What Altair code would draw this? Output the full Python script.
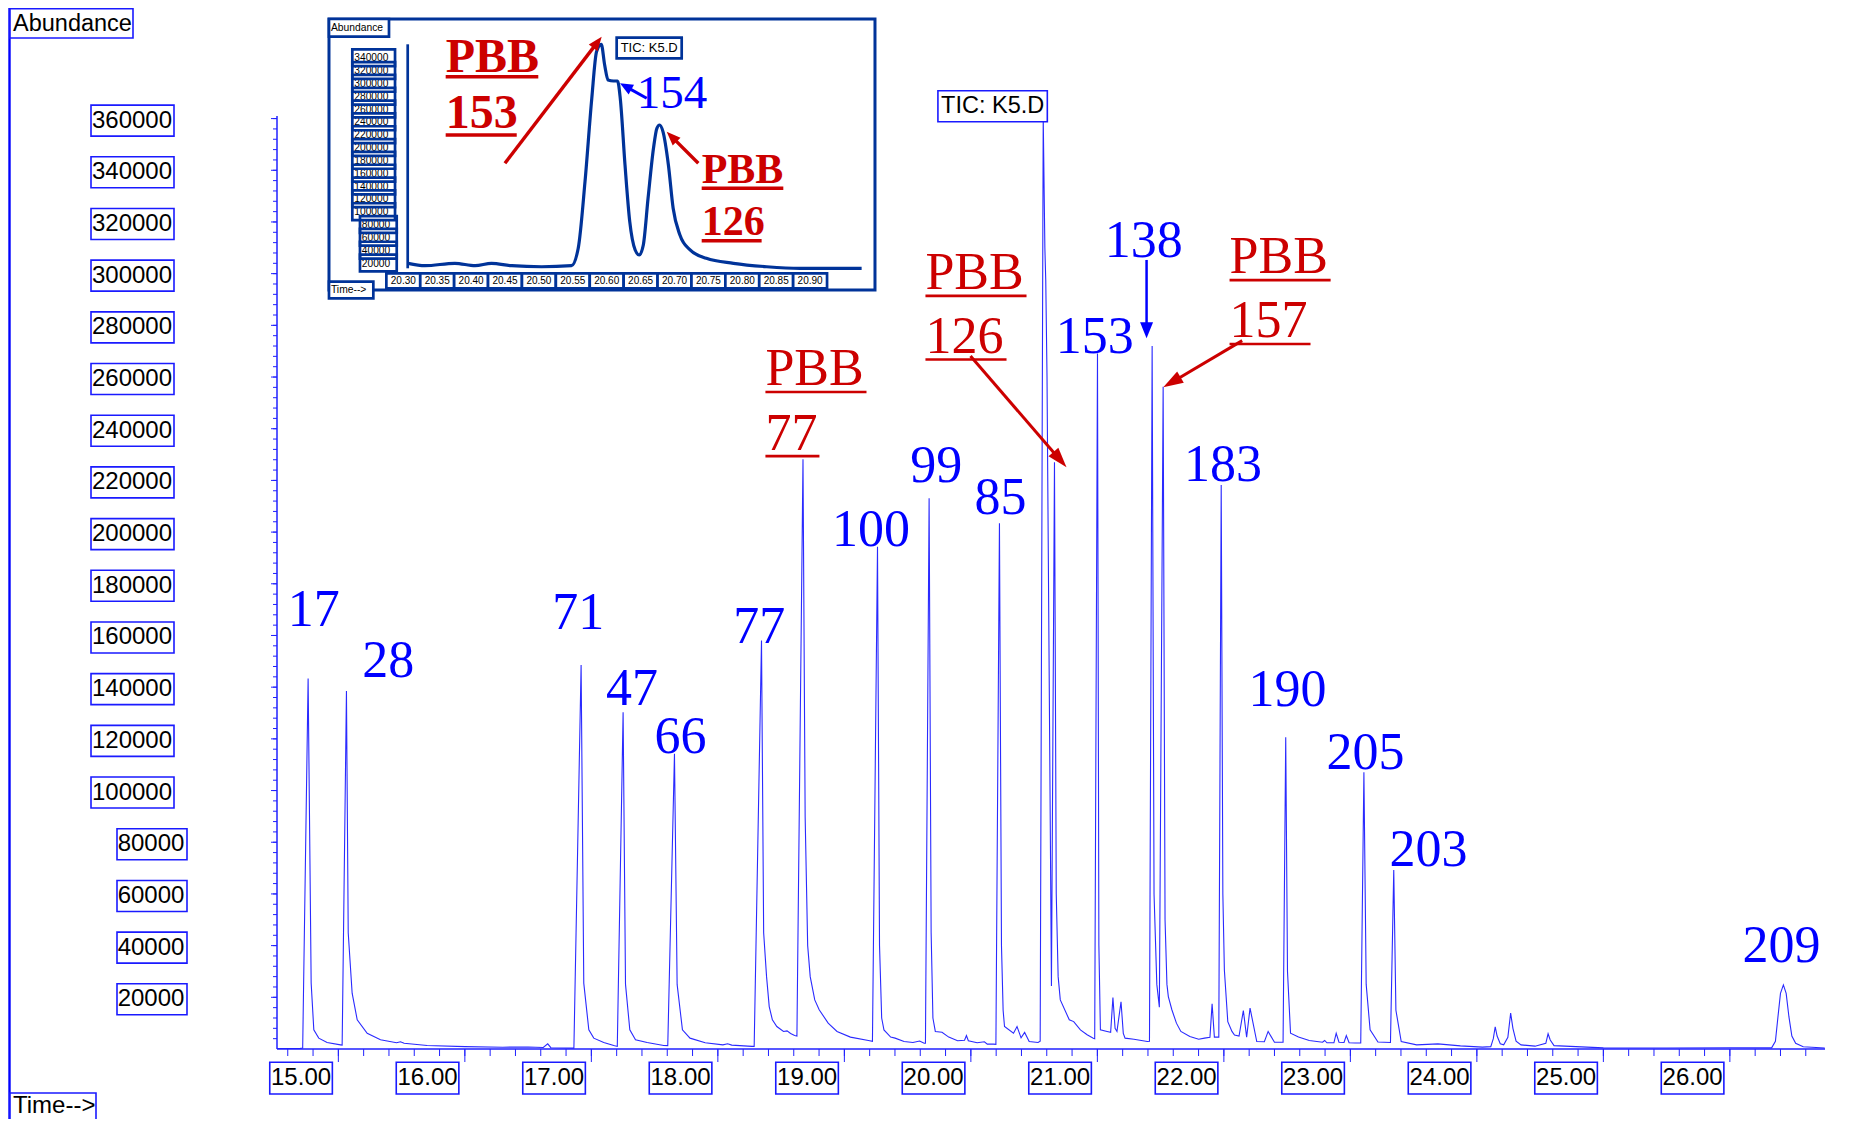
import math
import altair as alt
import pandas as pd

# ---------------- main TIC trace: retention time (min) / abundance ----------------
rt_min = [
    14.515, 14.700, 14.718,
    14.761, 14.785, 14.806, 14.845, 14.911, 15.017,
    15.030, 15.064, 15.078, 15.109, 15.149, 15.228, 15.333, 15.460, 15.491, 15.520, 15.702, 16.000, 16.300, 16.500, 16.620, 16.655, 16.680, 16.850,
    16.862, 16.919, 16.940, 16.980, 17.019, 17.098, 17.177,
    17.205, 17.251, 17.270, 17.304, 17.349, 17.441, 17.572,
    17.604, 17.657, 17.678, 17.720, 17.780, 17.900, 18.040, 18.077, 18.110, 18.270,
    18.287, 18.345, 18.362, 18.385, 18.406, 18.431, 18.466, 18.519, 18.547, 18.575, 18.607,
    18.625, 18.673, 18.690, 18.710, 18.730, 18.766, 18.801, 18.872, 18.942, 19.048, 19.190,
    19.222, 19.262, 19.278, 19.295, 19.313, 19.366, 19.401, 19.472, 19.542, 19.595, 19.631,
    19.641, 19.670, 19.686, 19.700, 19.719, 19.772, 19.825, 19.895, 19.950, 19.965, 19.980, 20.050, 20.107, 20.130, 20.178,
    20.198, 20.226, 20.242, 20.255, 20.266, 20.337, 20.365, 20.397, 20.425, 20.461, 20.531,
    20.548, 20.572, 20.585, 20.592, 20.602, 20.637, 20.661, 20.675, 20.690, 20.707, 20.778, 20.813, 20.866, 20.919, 20.968,
    20.979, 21.001, 21.012, 21.024, 21.077, 21.105, 21.123, 21.140, 21.155, 21.187, 21.205, 21.219, 21.289, 21.395,
    21.412, 21.433, 21.448, 21.470, 21.490, 21.520, 21.535, 21.550, 21.561, 21.589, 21.625, 21.660, 21.731, 21.801, 21.847, 21.890, 21.907, 21.925, 21.941,
    21.960, 21.979, 21.992, 22.004, 22.031, 22.064, 22.084, 22.120, 22.154, 22.180, 22.207, 22.260, 22.320, 22.350, 22.400, 22.454,
    22.468, 22.489, 22.503, 22.527, 22.590, 22.675, 22.780, 22.797, 22.815, 22.870, 22.888, 22.910, 22.950, 22.968, 22.990, 23.039,
    23.082, 23.107, 23.125, 23.156, 23.218,
    23.317, 23.343, 23.360, 23.402, 23.524, 23.692, 23.870, 24.044,
    24.110, 24.130, 24.145, 24.160, 24.185, 24.212, 24.245, 24.267, 24.285, 24.310, 24.349, 24.460, 24.545, 24.563, 24.580, 24.610, 25.000, 25.500, 26.000, 26.300,
    26.330, 26.360, 26.380, 26.400, 26.423, 26.445, 26.467, 26.490, 26.520, 26.580, 26.750,
]
abundance = [
    200, 250, 400,
    143400, 25500, 7400, 4200, 2500, 1600,
    1500, 138500, 45000, 21600, 11300, 6100, 3600, 2400, 2800, 2200, 1350, 900, 700, 800, 600, 2000, 500, 350,
    350, 148600, 25500, 7400, 4200, 2500, 1350,
    1000, 130300, 25000, 7400, 3600, 2500, 1350,
    1300, 114200, 25000, 7400, 4200, 2400, 1600, 2000, 1500, 1000,
    1000, 158100, 45000, 28000, 16400, 11300, 8700, 6800, 7000, 6000, 5200,
    5000, 228200, 90000, 40000, 28000, 19000, 15200, 10000, 6800, 4600, 3300,
    3000, 194300, 40000, 12000, 7400, 4600, 4200, 2900, 2500, 3100, 2200,
    2200, 213100, 45000, 12000, 6800, 6500, 4600, 3200, 3400, 5200, 3200, 2400, 2800, 1900, 1900,
    1800, 203400, 40000, 15000, 8700, 6100, 8700, 4300, 6400, 2900, 2500,
    3000, 360600, 310000, 297500, 260000, 24400, 227000, 60000, 28000, 19000, 11300, 10600, 7400, 5500, 4200,
    4000, 269100, 40000, 7400, 6800, 6500, 19900, 8000, 6800, 18300, 6000, 4200, 3800, 2900,
    3000, 272000, 60000, 25000, 16200, 256200, 50000, 25000, 20300, 15200, 10000, 6800, 4800, 3800, 4200, 4500, 17500, 4600, 4600,
    4600, 218200, 60000, 30600, 10600, 6800, 5400, 5000, 14900, 4600, 15800, 2900, 2800, 6800, 2600, 2600,
    2600, 120600, 30000, 6100, 4600, 3300, 2600, 3300, 2400, 2400, 6100, 2600, 2500, 5200, 2400, 2300,
    2300, 107100, 25000, 7400, 2700,
    2500, 69300, 15000, 2900, 1600, 2000, 1200, 730,
    900, 4000, 8600, 5000, 2000, 1600, 4500, 13900, 8000, 3000, 1600, 1100, 2200, 5900, 3500, 1300, 450, 400, 500, 450,
    450, 3000, 12400, 21500, 24800, 21500, 12400, 5000, 2200, 900, 400,
]

# ---------------- axis labels ----------------
y_label_values = [360000, 340000, 320000, 300000, 280000, 260000, 240000, 220000, 200000,
                  180000, 160000, 140000, 120000, 100000, 80000, 60000, 40000, 20000]
y_label_text = ["360000", "340000", "320000", "300000", "280000", "260000", "240000", "220000", "200000",
                "180000", "160000", "140000", "120000", "100000", "80000", "60000", "40000", "20000"]
x_label_values = [15, 16, 17, 18, 19, 20, 21, 22, 23, 24, 25, 26]
x_label_text = ["15.00", "16.00", "17.00", "18.00", "19.00", "20.00",
                "21.00", "22.00", "23.00", "24.00", "25.00", "26.00"]
x_minor_ticks = [round(14.6 + 0.2 * i, 1) for i in range(61)]
y_minor_ticks = list(range(4000, 360001, 4000))

# ---------------- peak number labels (blue) ----------------
peak_names = ["17", "28", "71", "47", "66", "77", "100", "99", "85", "153", "138", "183", "190", "205", "203", "209"]
peak_label_rt = [14.805, 15.395, 16.897, 17.322, 17.704, 18.327, 19.210, 19.727, 20.234,
                 20.979, 21.367, 21.993, 22.503, 23.119, 23.618, 26.409]
peak_label_ab = [163700, 144000, 162400, 133100, 114400, 157200, 194700, 219400, 206900,
                 269200, 306300, 219900, 132700, 108200, 70800, 33800]

# ---------------- PBB annotations (red, underlined) ----------------
pbb_text = ["PBB", "77", "PBB", "126", "PBB", "157"]
pbb_rt = [18.376, 18.376, 19.641, 19.641, 22.045, 22.045]
pbb_ab = [256900, 231800, 293900, 269400, 300100, 275600]
pbb_uline_end = [19.175, 18.803, 20.440, 20.282, 22.844, 22.685]
pbb_uline_ab = [254200, 229400, 291400, 266800, 297500, 272800]

red_arrow_rt1 = [19.997, 22.145]
red_arrow_ab1 = [268100, 274100]
red_arrow_rt2 = [20.756, 21.521]
red_arrow_ab2 = [225100, 256000]
blue_arrow_rt1 = [21.389]
blue_arrow_ab1 = [305300]
blue_arrow_rt2 = [21.389]
blue_arrow_ab2 = [275000]

# ---------------- inset (zoom 20.30 - 20.90 min) ----------------
inset_rt = [20.307, 20.332, 20.376, 20.406, 20.430, 20.460, 20.504, 20.548, 20.558, 20.568, 20.578,
            20.585, 20.592, 20.597, 20.602, 20.610, 20.616, 20.620, 20.627, 20.634, 20.642, 20.648,
            20.654, 20.661, 20.669, 20.674, 20.678, 20.683, 20.691, 20.698, 20.708, 20.723, 20.747,
            20.787, 20.836, 20.885, 20.976]
inset_ab = [19600, 15900, 19600, 15900, 19600, 15900, 14300, 15900, 43000, 146800, 276800,
            349500, 361000, 328700, 305400, 303800, 303800, 276800, 172900, 84500, 40400, 32600,
            48200, 121000, 198900, 230100, 235200, 224800, 172900, 105400, 63800, 40400, 27400,
            19600, 14300, 11800, 11800]
inset_y_values = [340000, 320000, 300000, 280000, 260000, 240000, 220000, 200000, 180000,
                  160000, 140000, 120000, 100000, 80000, 60000, 40000, 20000]
inset_y_text = ["340000", "320000", "300000", "280000", "260000", "240000", "220000", "200000", "180000",
                "160000", "140000", "120000", "100000", "80000", "60000", "40000", "20000"]
inset_x_values = [20.30, 20.35, 20.40, 20.45, 20.50, 20.55, 20.60, 20.65, 20.70, 20.75, 20.80, 20.85, 20.90]
inset_x_text = ["20.30", "20.35", "20.40", "20.45", "20.50", "20.55", "20.60", "20.65", "20.70",
                "20.75", "20.80", "20.85", "20.90"]
inset_pbb_text = ["PBB", "153", "PBB", "126"]
inset_pbb_rt = [20.3625, 20.3625, 20.7401, 20.7401]
inset_pbb_ab = [318310, 230080, 144350, 63755]
inset_pbb_size = [48, 48, 42, 42]
inset_uline_end = [20.4991, 20.4673, 20.8605, 20.8285]
inset_uline_ab = [310515, 219640, 136550, 54870]
inset_red_rt1 = [20.4499, 20.7351]
inset_red_ab1 = [175520, 175520]
inset_red_rt2 = [20.5926, 20.6885]
inset_red_ab2 = [372870, 224780]
inset_blue_rt1 = [20.6590]
inset_blue_ab1 = [276850]
inset_blue_rt2 = [20.6196]
inset_blue_ab2 = [300230]

# ---------------- layout / style ----------------
PLOT_W, PLOT_H = 1548, 933
PAD = {"left": 269, "top": 108, "right": 19, "bottom": 70}
X_DOM = [14.515, 26.752]
Y_DOM = [0, 361000]
PXM = PLOT_W / (X_DOM[1] - X_DOM[0])
PXU = PLOT_H / (Y_DOM[1] - Y_DOM[0])

IN_PXM = 678.0
IN_PXU = 0.0006415
IN_T0, IN_X0, IN_Y0 = 20.30, 126.3, 159.9
IX_DOM = [IN_T0 - IN_X0 / IN_PXM, IN_T0 + (PLOT_W - IN_X0) / IN_PXM]
IY_DOM = [-(PLOT_H - IN_Y0) / IN_PXU, IN_Y0 / IN_PXU]

BLUE = "#0000ff"
TRACE = "#2a2aff"
AX = "#2020ff"
BOX = "#1a1aff"
RED = "#cc0000"
NAVY = "#003399"
SANS = "Liberation Sans"
SERIF = "Liberation Serif"


def sc(dom):
    return alt.Scale(domain=dom, nice=False, zero=False)


def X(f, dom=X_DOM):
    return alt.X(f, type="quantitative", scale=sc(dom), axis=None)


def Y(f, dom=Y_DOM):
    return alt.Y(f, type="quantitative", scale=sc(dom), axis=None)


def arrows(x1, y1, x2, y2, color, width, head_len, head_w, xdom, ydom, pxm, pxu):
    rows = []
    for a, b, c, d in zip(x1, y1, x2, y2):
        dx = (c - a) * pxm
        dy = -(d - b) * pxu
        n = math.hypot(dx, dy)
        ux, uy = dx / n, dy / n
        back = 0.6 * head_len
        rows.append({"x1": a, "y1": b, "xe": c - ux * back / pxm, "ye": d + uy * back / pxu,
                     "x2": c, "y2": d, "ang": math.degrees(math.atan2(dx, -dy)) % 360})
    df = pd.DataFrame(rows)
    half = head_w / head_len
    shape = f"M0,0L{half:.3f},2L{-half:.3f},2Z"
    shaft = alt.Chart(df).mark_rule(color=color, strokeWidth=width).encode(
        x=X("x1", xdom), y=Y("y1", ydom), x2="xe", y2="ye")
    head = alt.Chart(df).mark_point(shape=shape, filled=True, size=head_len ** 2, color=color, opacity=1).encode(
        x=X("x2", xdom), y=Y("y2", ydom), angle=alt.Angle("ang:Q", scale=None))
    return [shaft, head]


# ================= main chart layers =================
main_df = pd.DataFrame({"t": rt_min, "v": abundance})
trace = alt.Chart(main_df).mark_line(color=TRACE, strokeWidth=1.1).encode(x=X("t"), y=Y("v"))

anchor_df = pd.DataFrame({"ta": [X_DOM[0]], "tb": [X_DOM[1]], "vt": [Y_DOM[1]], "v0": [Y_DOM[0]],
                          "ab": ["Abundance"], "tm": ["Time-->"]})
border = alt.Chart(anchor_df).mark_rule(color=BLUE, strokeWidth=2.4, xOffset=-267.5, yOffset=-108, y2Offset=70).encode(
    x=X("ta"), y=Y("vt"), y2="v0")

# axis lines
x_axis_line = alt.Chart(anchor_df).mark_rule(color=AX, strokeWidth=1.5).encode(x=X("ta"), x2="tb", y=Y("v0"))
y_axis_line = alt.Chart(anchor_df).mark_rule(color=AX, strokeWidth=1.5).encode(x=X("ta"), y=Y("v0"), y2="vt")

xm_df = pd.DataFrame({"t": x_minor_ticks, "z": [0] * len(x_minor_ticks)})
x_minor = alt.Chart(xm_df).mark_rule(color=AX, strokeWidth=1, y2Offset=7).encode(x=X("t"), y=Y("z"), y2="z")
ym_df = pd.DataFrame({"v": y_minor_ticks, "ta": [X_DOM[0]] * len(y_minor_ticks)})
y_minor = alt.Chart(ym_df).mark_rule(color=AX, strokeWidth=1, xOffset=-4).encode(x=X("ta"), x2="ta", y=Y("v"))

xl_df = pd.DataFrame({"t": x_label_values, "z": [0] * len(x_label_values), "lab": x_label_text})
x_major = alt.Chart(xl_df).mark_rule(color=AX, strokeWidth=1, y2Offset=13).encode(x=X("t"), y=Y("z"), y2="z")
x_box = alt.Chart(xl_df).mark_rect(fill="white", stroke=BOX, strokeWidth=1.6, xOffset=-68.6, x2Offset=-6.0,
                                   yOffset=13.3, y2Offset=45).encode(x=X("t"), x2="t", y=Y("z"), y2="z")
x_txt = alt.Chart(xl_df).mark_text(font=SANS, fontSize=24, color="black", dx=-37.3, dy=29,
                                   align="center", baseline="middle").encode(x=X("t"), y=Y("z"), text="lab:N")

yl_df = pd.DataFrame({"v": y_label_values, "ta": [X_DOM[0]] * len(y_label_values), "lab": y_label_text})
y_major = alt.Chart(yl_df).mark_rule(color=AX, strokeWidth=1, xOffset=-6).encode(x=X("ta"), x2="ta", y=Y("v"))
yl6 = yl_df[yl_df["v"] >= 100000]
yl5 = yl_df[yl_df["v"] < 100000]
y_box6 = alt.Chart(yl6).mark_rect(fill="white", stroke=BOX, strokeWidth=1.6, xOffset=-186, x2Offset=-103,
                                  yOffset=-13.5, y2Offset=17.5).encode(x=X("ta"), x2="ta", y=Y("v"), y2="v")
y_txt6 = alt.Chart(yl6).mark_text(font=SANS, fontSize=24, color="black", dx=-145, dy=2,
                                  align="center", baseline="middle").encode(x=X("ta"), y=Y("v"), text="lab:N")
y_box5 = alt.Chart(yl5).mark_rect(fill="white", stroke=BOX, strokeWidth=1.6, xOffset=-160, x2Offset=-90,
                                  yOffset=-13.5, y2Offset=17.5).encode(x=X("ta"), x2="ta", y=Y("v"), y2="v")
y_txt5 = alt.Chart(yl5).mark_text(font=SANS, fontSize=24, color="black", dx=-126, dy=2,
                                  align="center", baseline="middle").encode(x=X("ta"), y=Y("v"), text="lab:N")

pk_df = pd.DataFrame({"t": peak_label_rt, "v": peak_label_ab, "lab": peak_names})
peaks = alt.Chart(pk_df).mark_text(font=SERIF, fontSize=52, color=BLUE, align="center",
                                   baseline="alphabetic").encode(x=X("t"), y=Y("v"), text="lab:N")

pbb_df = pd.DataFrame({"t": pbb_rt, "v": pbb_ab, "lab": pbb_text, "t2": pbb_uline_end, "vu": pbb_uline_ab})
pbb = alt.Chart(pbb_df).mark_text(font=SERIF, fontSize=52, color=RED, align="left",
                                  baseline="alphabetic").encode(x=X("t"), y=Y("v"), text="lab:N")
pbb_ul = alt.Chart(pbb_df).mark_rule(color=RED, strokeWidth=2.6).encode(x=X("t"), x2="t2", y=Y("vu"))

main_arrows = (arrows(red_arrow_rt1, red_arrow_ab1, red_arrow_rt2, red_arrow_ab2, RED, 3, 20, 13,
                      X_DOM, Y_DOM, PXM, PXU)
               + arrows(blue_arrow_rt1, blue_arrow_ab1, blue_arrow_rt2, blue_arrow_ab2, BLUE, 2.5, 16, 13,
                        X_DOM, Y_DOM, PXM, PXU))

tic_df = pd.DataFrame({"t": [20.172], "v": [364790], "lab": ["TIC: K5.D"]})
tic_box = alt.Chart(tic_df).mark_rect(fill="white", stroke=BOX, strokeWidth=1.6, xOffset=-54.7, x2Offset=54.7,
                                      yOffset=-15.5, y2Offset=15.5).encode(x=X("t"), x2="t", y=Y("v"), y2="v")
tic_txt = alt.Chart(tic_df).mark_text(font=SANS, fontSize=23.5, color="black", align="center",
                                      baseline="middle").encode(x=X("t"), y=Y("v"), text="lab:N")

ab_box = alt.Chart(anchor_df).mark_rect(fill="white", stroke=BOX, strokeWidth=1.6, xOffset=-267, x2Offset=-144,
                                        yOffset=-107.2, y2Offset=-78).encode(x=X("ta"), x2="ta", y=Y("vt"), y2="vt")
ab_txt = alt.Chart(anchor_df).mark_text(font=SANS, fontSize=23.5, color="black", align="left", baseline="middle",
                                        dx=-264, dy=-92.5).encode(x=X("ta"), y=Y("vt"), text="ab:N")
tm_box = alt.Chart(anchor_df).mark_rect(fill="white", stroke=BOX, strokeWidth=1.6, xOffset=-267, x2Offset=-181,
                                        yOffset=44, y2Offset=91).encode(x=X("ta"), x2="ta", y=Y("v0"), y2="v0")
tm_txt = alt.Chart(anchor_df).mark_text(font=SANS, fontSize=24, color="black", align="left", baseline="middle",
                                        dx=-264, dy=57).encode(x=X("ta"), y=Y("v0"), text="tm:N")

main = alt.layer(border, trace, x_axis_line, y_axis_line, x_minor, y_minor, x_major, y_major,
                 x_box, x_txt, y_box6, y_txt6, y_box5, y_txt5,
                 peaks, pbb, pbb_ul, *main_arrows, tic_box, tic_txt, ab_box, ab_txt, tm_box, tm_txt)


# ================= inset layers =================
def IX(f):
    return X(f, IX_DOM)


def IY(f):
    return Y(f, IY_DOM)


frame_df = pd.DataFrame({"u1": [20.1904], "u2": [20.9957], "w1": [-21980], "w2": [400460]})
in_frame = alt.Chart(frame_df).mark_rect(fill="white", stroke=NAVY, strokeWidth=3).encode(
    x=IX("u1"), x2="u2", y=IY("w1"), y2="w2")

in_df = pd.DataFrame({"u": inset_rt, "w": inset_ab})
in_trace = alt.Chart(in_df).mark_line(color=NAVY, strokeWidth=3.2, interpolate="monotone").encode(
    x=IX("u"), y=IY("w"))

in_axis_df = pd.DataFrame({"u": [20.3065], "w1": [11850], "w2": [361020]})
in_axis = alt.Chart(in_axis_df).mark_rule(color=NAVY, strokeWidth=2.7).encode(x=IX("u"), y=IY("w1"), y2="w2")

iy_df = pd.DataFrame({"w": inset_y_values, "lab": inset_y_text})
iy6 = iy_df[iy_df["w"] >= 100000].assign(uc=20.2528, ua=20.2248, ub=20.2878)
iy5 = iy_df[iy_df["w"] < 100000].assign(uc=20.2597, ua=20.2361, ub=20.2903)
in_ylayers = []
for part in (iy6, iy5):
    in_ylayers.append(alt.Chart(part).mark_rect(fill="white", yOffset=-8.5, y2Offset=8.3).encode(
        x=IX("ua"), x2="ub", y=IY("w"), y2="w"))
for part in (iy6, iy5):
    in_ylayers.append(alt.Chart(part).mark_text(font=SANS, fontSize=10.2, color="black", align="center",
                                                baseline="middle", dy=0.5).encode(x=IX("uc"), y=IY("w"), text="lab:N"))
for part in (iy6, iy5):
    in_ylayers.append(alt.Chart(part).mark_rect(fillOpacity=0, stroke=NAVY, strokeWidth=2.7, yOffset=-8.5,
                                                y2Offset=8.3).encode(x=IX("ua"), x2="ub", y=IY("w"), y2="w"))

ix_df = pd.DataFrame({"u": inset_x_values, "lab": inset_x_text})
ix_df = ix_df.assign(ua=ix_df["u"] - 0.025, ub=ix_df["u"] + 0.025, wa=-19330, wb=4053, wt=-7482)
in_xbox = alt.Chart(ix_df).mark_rect(fill="white", stroke=NAVY, strokeWidth=2.7).encode(
    x=IX("ua"), x2="ub", y=IY("wa"), y2="wb")
in_xtxt = alt.Chart(ix_df).mark_text(font=SANS, fontSize=10, color="black", align="center",
                                     baseline="middle").encode(x=IX("u"), y=IY("wt"), text="lab:N")

ibox_df = pd.DataFrame({
    "u1": [20.1904, 20.1904, 20.6147], "u2": [20.2789, 20.2558, 20.7106],
    "w1": [372870, -34917, 339200], "w2": [400460, -9041, 371310],
})
in_boxes = alt.Chart(ibox_df).mark_rect(fill="white", stroke=NAVY, strokeWidth=2.7).encode(
    x=IX("u1"), x2="u2", y=IY("w1"), y2="w2")
itxt_l = pd.DataFrame({"u": [20.1933, 20.1933], "w": [386600, -21980], "lab": ["Abundance", "Time-->"]})
in_txt_l = alt.Chart(itxt_l).mark_text(font=SANS, fontSize=10.3, color="black", align="left",
                                       baseline="middle").encode(x=IX("u"), y=IY("w"), text="lab:N")
itxt_c = pd.DataFrame({"u": [20.6627], "w": [355250], "lab": ["TIC: K5.D"]})
in_txt_c = alt.Chart(itxt_c).mark_text(font=SANS, fontSize=13, color="black", align="center",
                                       baseline="middle").encode(x=IX("u"), y=IY("w"), text="lab:N")

ipbb_df = pd.DataFrame({"u": inset_pbb_rt, "w": inset_pbb_ab, "lab": inset_pbb_text, "fs": inset_pbb_size,
                        "u2": inset_uline_end, "wu": inset_uline_ab})
in_pbb = alt.Chart(ipbb_df).mark_text(font=SERIF, fontWeight="bold", color=RED, align="left",
                                      baseline="alphabetic").encode(
    x=IX("u"), y=IY("w"), text="lab:N", size=alt.Size("fs:Q", scale=None))
in_ul = alt.Chart(ipbb_df).mark_rule(color=RED, strokeWidth=3.5).encode(x=IX("u"), x2="u2", y=IY("wu"))
i154_df = pd.DataFrame({"u": [20.6443], "w": [261250], "lab": ["154"]})
in_154 = alt.Chart(i154_df).mark_text(font=SERIF, fontSize=47, color=BLUE, align="left",
                                      baseline="alphabetic").encode(x=IX("u"), y=IY("w"), text="lab:N")

in_arrows = (arrows(inset_red_rt1, inset_red_ab1, inset_red_rt2, inset_red_ab2, RED, 3.4, 14, 11,
                    IX_DOM, IY_DOM, IN_PXM, IN_PXU)
             + arrows(inset_blue_rt1, inset_blue_ab1, inset_blue_rt2, inset_blue_ab2, BLUE, 3, 13, 11,
                      IX_DOM, IY_DOM, IN_PXM, IN_PXU))

inset = alt.layer(in_frame, *in_ylayers, in_xbox, in_xtxt, in_axis, in_trace, in_boxes, in_txt_l, in_txt_c,
                  in_pbb, in_ul, in_154, *in_arrows)

chart = alt.layer(main, inset).resolve_scale(x="independent", y="independent").properties(
    width=PLOT_W, height=PLOT_H, padding=PAD, autosize=alt.AutoSizeParams(type="none"), background="white"
).configure_view(stroke="transparent")

chart.save("out.html", embed_options={"renderer": "svg", "actions": False})
